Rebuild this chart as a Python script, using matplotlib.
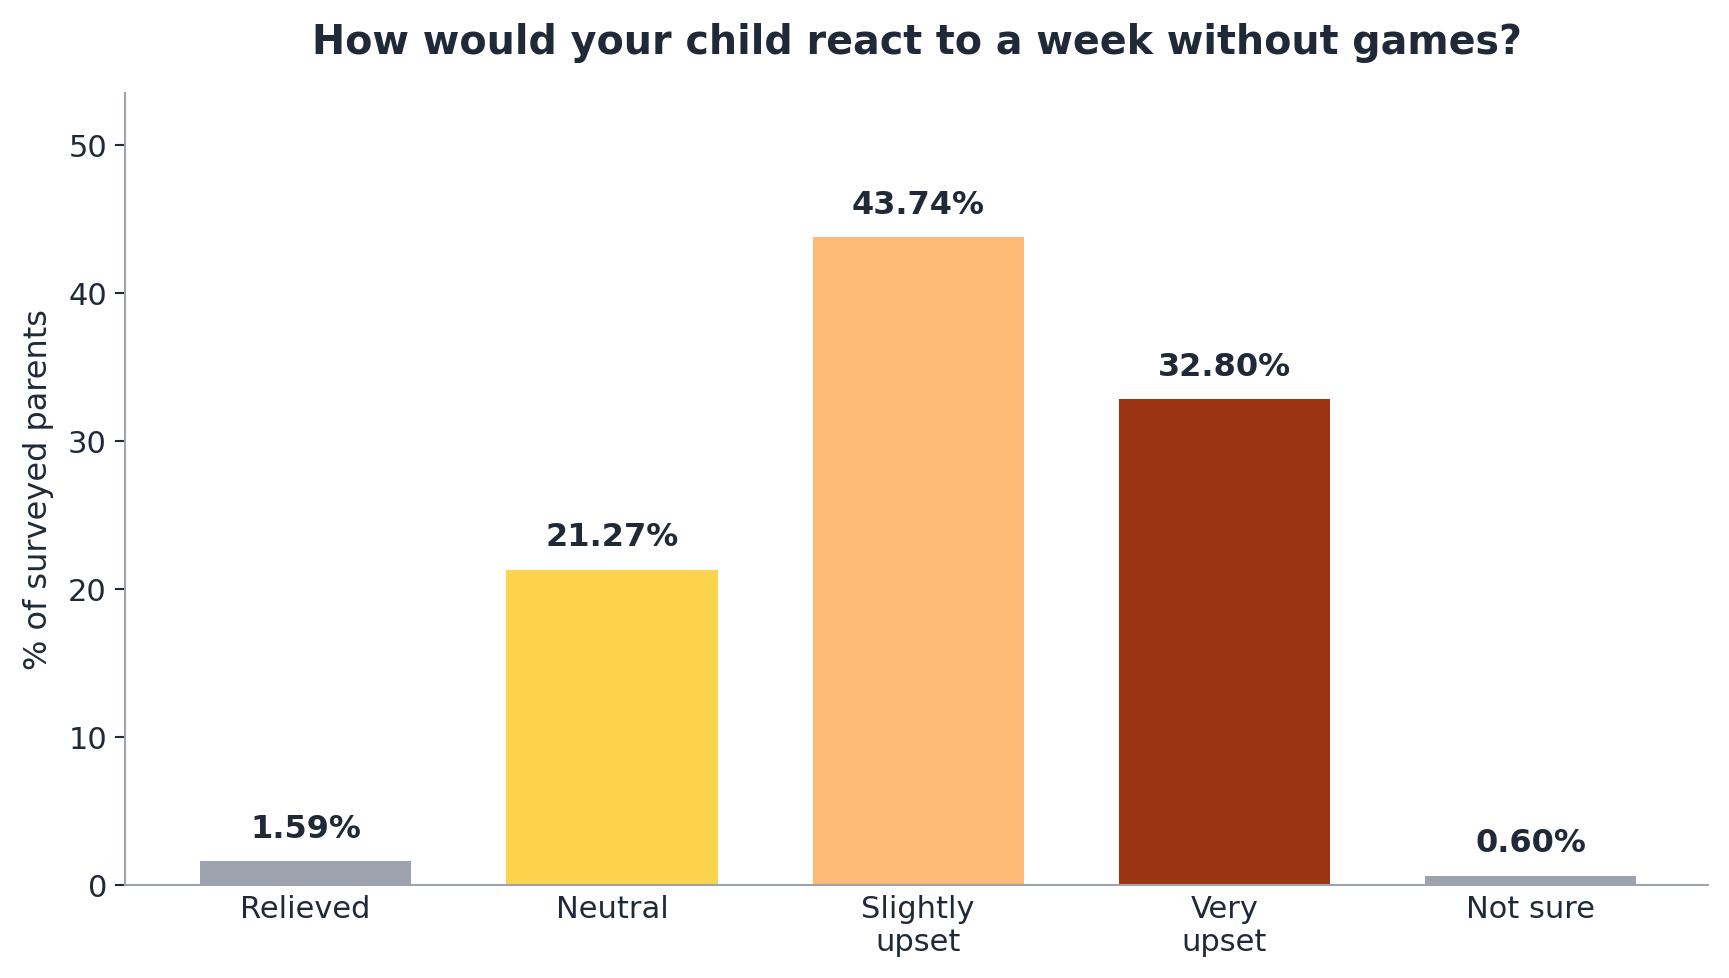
import matplotlib
matplotlib.use("Agg")
import matplotlib.pyplot as plt

categories = ["Relieved", "Neutral", "Slightly\nupset", "Very\nupset", "Not sure"]
values = [1.59, 21.27, 43.74, 32.80, 0.60]
bar_colors = ["#9CA3AF", "#FCD34D", "#FDBA74", "#9A3412", "#9CA3AF"]
yticks = [0, 10, 20, 30, 40, 50]

text_color = "#1F2937"
axis_color = "#9CA3AF"

fig = plt.figure(figsize=(17.29, 9.79), dpi=100)
ax = fig.add_axes([0.0723, 0.0955, 0.9157, 0.8085])

x = range(len(categories))
bars = ax.bar(x, values, width=0.69, color=bar_colors, zorder=2)

for b, v in zip(bars, values):
    ax.annotate(f"{v:.2f}%", (b.get_x() + b.get_width() / 2, v),
                xytext=(0, 12.5), textcoords="offset points",
                ha="center", va="bottom", fontsize=23, fontweight="bold",
                color=text_color)

ax.set_xlim(-0.59, 4.58)
ax.set_ylim(0, 53.5)
ax.set_xticks(list(x))
ax.set_xticklabels(categories, fontsize=22, color=text_color, linespacing=1.2)
ax.set_yticks(yticks)
ax.tick_params(axis="y", labelsize=22, labelcolor=text_color, color=text_color,
               length=7, width=1.5, pad=6)
ax.tick_params(axis="x", length=0, pad=6.5)

ax.set_ylabel("% of surveyed parents", fontsize=23, color=text_color, labelpad=10)
ax.set_title("How would your child react to a week without games?",
             fontsize=28.5, fontweight="bold", color=text_color, pad=29)

for side in ["top", "right"]:
    ax.spines[side].set_visible(False)
for side in ["left", "bottom"]:
    ax.spines[side].set_color(axis_color)
    ax.spines[side].set_linewidth(1.5)

fig.savefig("out.png", dpi=100, facecolor="white")
